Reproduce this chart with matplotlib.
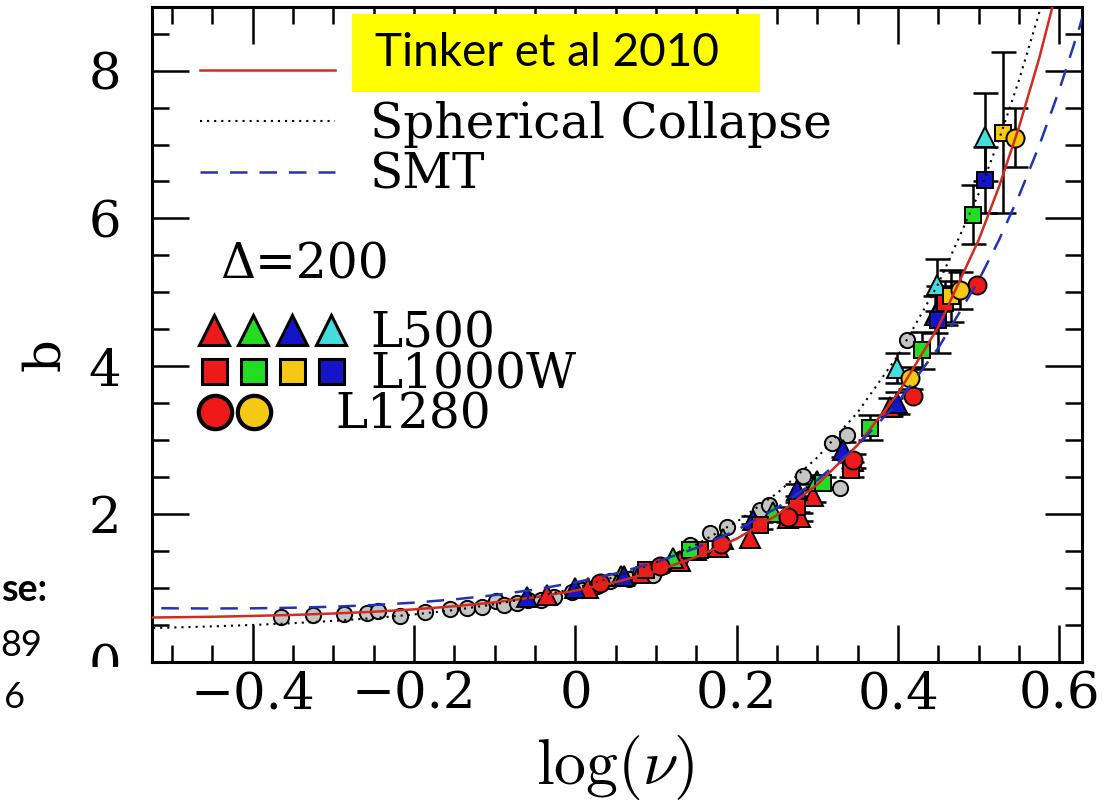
import numpy as np
import matplotlib.pyplot as plt
from matplotlib.lines import Line2D
from matplotlib.patches import Rectangle
from matplotlib.legend_handler import HandlerTuple
from matplotlib.ticker import MultipleLocator, FuncFormatter

plt.rcParams['font.family'] = 'DejaVu Serif'
plt.rcParams['mathtext.fontset'] = 'cm'

# model curves: halo bias b against log(nu)
lognu = [-0.55, -0.5, -0.45, -0.4, -0.35, -0.3, -0.25, -0.2, -0.15, -0.1, -0.05, 0.0,
         0.05, 0.1, 0.15, 0.2, 0.25, 0.3, 0.35, 0.4, 0.45, 0.5, 0.525, 0.55, 0.575,
         0.6, 0.625, 0.65]
b_tinker = [0.599, 0.605, 0.612, 0.623, 0.637, 0.656, 0.680, 0.712, 0.754, 0.807, 0.876,
            0.966, 1.081, 1.229, 1.421, 1.668, 1.988, 2.402, 2.938, 3.634, 4.537, 5.711,
            6.425, 7.239, 8.169, 9.229, 10.44, 11.83]
b_sph = [0.454, 0.466, 0.482, 0.501, 0.525, 0.556, 0.594, 0.643, 0.704, 0.781, 0.878,
         1.000, 1.154, 1.347, 1.590, 1.897, 2.283, 2.768, 3.380, 4.149, 5.118, 6.338,
         7.062, 7.874, 8.785, 9.807, 11.95, 12.24]
b_smt = [0.733, 0.726, 0.724, 0.726, 0.734, 0.748, 0.771, 0.803, 0.847, 0.905, 0.980,
         1.076, 1.198, 1.351, 1.544, 1.785, 2.086, 2.462, 2.932, 3.518, 4.250, 5.166,
         5.706, 6.310, 6.986, 7.743, 8.589, 9.536]

# other runs (grey)
grey_x = [-0.365, -0.326, -0.287, -0.258, -0.245, -0.217, -0.186, -0.155, -0.134, -0.116,
          -0.099, -0.089, -0.072, -0.059, -0.043, -0.027, -0.004, 0.008, 0.027, 0.043,
          0.066, 0.080, 0.096, 0.110, 0.130, 0.142, 0.167, 0.188, 0.229, 0.240, 0.282,
          0.318, 0.328, 0.337, 0.411]
grey_y = [0.61, 0.63, 0.65, 0.66, 0.69, 0.62, 0.68, 0.72, 0.73, 0.75, 0.82, 0.77, 0.80,
          0.84, 0.84, 0.88, 0.95, 0.98, 1.03, 1.10, 1.12, 1.21, 1.18, 1.30, 1.40, 1.58,
          1.74, 1.83, 2.06, 2.12, 2.52, 2.96, 2.35, 3.07, 4.36]

# L500 (triangles)
tri_red_x = [-0.035, 0.016, 0.080, 0.130, 0.177, 0.217, 0.263, 0.279, 0.295, 0.344, 0.390]
tri_red_y = [0.90, 1.00, 1.20, 1.37, 1.56, 1.68, 1.95, 1.96, 2.25, 2.72, 3.45]
tri_red_e = [0, 0, 0, 0, 0, 0, 0.05, 0.05, 0.08, 0.10, 0.12]
tri_green_x = [0.056, 0.121, 0.183, 0.245, 0.300]
tri_green_y = [1.16, 1.41, 1.66, 2.03, 2.45]
tri_green_e = [0, 0, 0, 0.06, 0.08]
tri_blue_x = [-0.060, 0.000, 0.060, 0.150, 0.220, 0.275, 0.332, 0.399, 0.446]
tri_blue_y = [0.88, 1.00, 1.16, 1.52, 1.92, 2.33, 2.87, 3.50, 4.70]
tri_blue_e = [0, 0, 0, 0, 0.06, 0.08, 0.10, 0.15, 0.25]
tri_cyan_x = [0.399, 0.448, 0.508]
tri_cyan_y = [3.98, 5.10, 7.10]
tri_cyan_e = [0.20, 0.35, 0.60]

# L1000W (squares)
sq_red_x = [0.087, 0.155, 0.229, 0.275, 0.341, 0.458]
sq_red_y = [1.24, 1.52, 1.85, 2.10, 2.60, 4.86]
sq_red_e = [0, 0, 0.05, 0.07, 0.10, 0.30]
sq_green_x = [0.142, 0.307, 0.365, 0.430, 0.493]
sq_green_y = [1.52, 2.42, 3.17, 4.22, 6.05]
sq_green_e = [0, 0.08, 0.17, 0.25, 0.40]
sq_yellow_x = [0.465, 0.530]
sq_yellow_y = [4.95, 7.16]
sq_yellow_e = [0.35, 1.09]
sq_blue_x = [0.450, 0.508]
sq_blue_y = [4.63, 6.52]
sq_blue_e = [0.45, 0.45]

# L1280 (circles)
ci_red_x = [0.031, 0.105, 0.180, 0.263, 0.344, 0.419, 0.498]
ci_red_y = [1.07, 1.30, 1.60, 1.96, 2.73, 3.60, 5.10]
ci_red_e = [0, 0, 0, 0, 0, 0, 0]
ci_yellow_x = [0.415, 0.477, 0.545]
ci_yellow_y = [3.84, 5.03, 7.09]
ci_yellow_e = [0.15, 0.25, 0.40]

RED, GREEN, BLUE, CYAN, YELLOW = '#ee1a1a', '#22dd22', '#1414c8', '#44dddd', '#f5c814'

fig = plt.figure(figsize=(11.14, 8.06), dpi=100)
ax = fig.add_axes([152 / 1114, 1 - 662 / 806, 930 / 1114, 655 / 806])


def points(x, y, e, marker, color, ms):
    x, y, e = np.array(x), np.array(y), np.array(e)
    m = e > 0
    if m.any():
        ax.errorbar(x[m], y[m], yerr=e[m], fmt='none', ecolor='black',
                    elinewidth=1.8, capsize=9, capthick=1.8, zorder=2)
    ax.plot(x, y, ls='none', marker=marker, ms=ms, mfc=color, mec='black',
            mew=1.4, zorder=3)


ax.plot(grey_x, grey_y, ls='none', marker='o', ms=11, mfc='#c4c4c4', mec='black',
        mew=1.4, zorder=2.5)
points(tri_red_x, tri_red_y, tri_red_e, '^', RED, 15)
points(tri_green_x, tri_green_y, tri_green_e, '^', GREEN, 15)
points(tri_blue_x, tri_blue_y, tri_blue_e, '^', BLUE, 15)
points(tri_cyan_x, tri_cyan_y, tri_cyan_e, '^', CYAN, 15)
points(sq_red_x, sq_red_y, sq_red_e, 's', RED, 12)
points(sq_green_x, sq_green_y, sq_green_e, 's', GREEN, 12)
points(sq_yellow_x, sq_yellow_y, sq_yellow_e, 's', YELLOW, 12)
points(sq_blue_x, sq_blue_y, sq_blue_e, 's', BLUE, 12)
points(ci_red_x, ci_red_y, ci_red_e, 'o', RED, 13)
points(ci_yellow_x, ci_yellow_y, ci_yellow_e, 'o', YELLOW, 13)

h_tinker, = ax.plot(lognu, b_tinker, color='#d42a20', lw=1.8, zorder=4)
h_sph, = ax.plot(lognu, b_sph, color='black', lw=1.5, ls=(0, (1, 2.4)), zorder=4)
h_smt, = ax.plot(lognu, b_smt, color='#2233bb', lw=1.8, ls=(0, (7, 4.8)), zorder=4)

ax.set_xlim(-0.525, 0.628)
ax.set_ylim(0, 8.86)
ax.xaxis.set_major_locator(MultipleLocator(0.2))
ax.xaxis.set_minor_locator(MultipleLocator(0.05))
ax.yaxis.set_major_locator(MultipleLocator(2))
ax.yaxis.set_minor_locator(MultipleLocator(0.5))
ax.xaxis.set_major_formatter(FuncFormatter(
    lambda v, p: '0' if abs(v) < 1e-9 else ('%.1f' % v).replace('-', '\u2212')))
ax.yaxis.set_major_formatter(FuncFormatter(lambda v, p: '%d' % round(v)))
ax.tick_params(which='both', direction='in', top=True, right=True, width=1.8,
               labelsize=37)
ax.tick_params(which='major', length=26.5)
ax.tick_params(which='minor', length=12.5)
ax.tick_params(axis='x', pad=6)
ax.tick_params(axis='y', pad=22)
for s in ax.spines.values():
    s.set_linewidth(2.2)

fig.text(45 / 1114, 1 - 355 / 806, 'b', rotation=90, ha='center', va='center', fontsize=37)
fig.text(615 / 1114, 1 - 768 / 806, r'$\log(\nu)$', ha='center', va='center', fontsize=46)

# line legend
leg1 = ax.legend([h_tinker, h_sph, h_smt], [' ', 'Spherical Collapse', 'SMT'],
                 loc='upper left', bbox_to_anchor=(200 / 1114, 1 - 50 / 806),
                 bbox_transform=fig.transFigure, frameon=False, fontsize=35,
                 handlelength=2.78, handletextpad=0.72, labelspacing=0.08,
                 borderpad=0, borderaxespad=0)
ax.add_artist(leg1)

fig.text(220 / 1114, 1 - 265 / 806, '\u0394=200', ha='left', va='center', fontsize=35)


def key(marker, color, ms, mew=2.2):
    return Line2D([], [], ls='none', marker=marker, ms=ms, mfc=color, mec='black', mew=mew)


tri_keys = (key('^', RED, 21), key('^', GREEN, 21), key('^', BLUE, 21), key('^', CYAN, 21))
sq_keys = (key('s', RED, 18), key('s', GREEN, 18), key('s', YELLOW, 18), key('s', BLUE, 18))
ci_keys = (key('o', RED, 24, 3), key('o', YELLOW, 24, 3))
leg2 = ax.legend([tri_keys, sq_keys], ['L500', 'L1000W'],
                 handler_map={tuple: HandlerTuple(ndivide=None, pad=0)},
                 loc='upper left', bbox_to_anchor=(195 / 1114, 1 - 310 / 806),
                 bbox_transform=fig.transFigure, frameon=False, fontsize=35,
                 handlelength=3.2, handletextpad=0.4, labelspacing=-0.12,
                 borderpad=0, borderaxespad=0)
ax.add_artist(leg2)
ax.legend([ci_keys], ['L1280'],
          handler_map={tuple: HandlerTuple(ndivide=None, pad=0)},
          loc='upper left', bbox_to_anchor=(196 / 1114, 1 - 392 / 806),
          bbox_transform=fig.transFigure, frameon=False, fontsize=35,
          handlelength=1.6, handletextpad=1.27, borderpad=0, borderaxespad=0)

# yellow label box over the first legend entry
fig.add_artist(Rectangle((352 / 1114, 1 - 92 / 806), 408 / 1114, 78 / 806,
                         transform=fig.transFigure, facecolor='#ffff00',
                         edgecolor='none', zorder=5))
fig.text(375 / 1114, 1 - 53 / 806, 'Tinker et al 2010', ha='left', va='center',
         fontsize=33, family='Lato', zorder=6)

# slide text box on the left
fig.add_artist(Rectangle((0, 0), 150 / 1114, (806 - 667) / 806,
                         transform=fig.transFigure, facecolor='white',
                         edgecolor='none', zorder=5))
fig.text(47 / 1114, 1 - 590 / 806, 'se:', ha='right', va='center', fontsize=27,
         family='Lato', weight='bold', zorder=6)
fig.text(42 / 1114, 1 - 645 / 806, '89', ha='right', va='center', fontsize=26,
         family='Lato', zorder=6)
fig.text(25 / 1114, 1 - 698 / 806, '6', ha='right', va='center', fontsize=26,
         family='Lato', zorder=6)

fig.savefig('out.png', dpi=100)
